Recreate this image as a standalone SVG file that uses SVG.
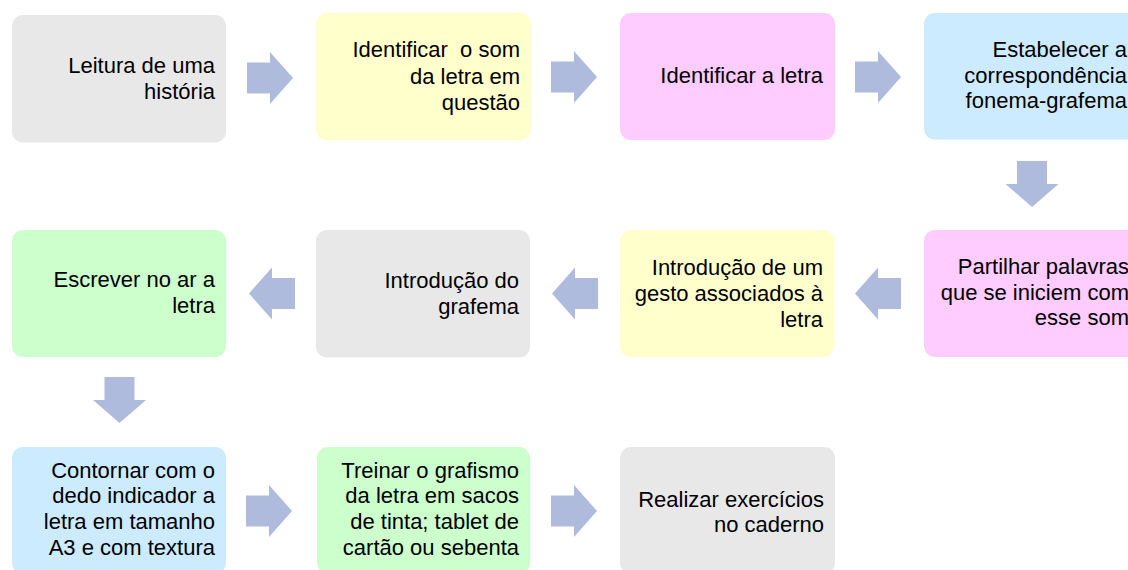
<svg xmlns="http://www.w3.org/2000/svg" width="1128" height="570" viewBox="0 0 1128 570">
<style>
.box{stroke:none}
.gray{fill:#E8E8E8}
.yellow{fill:#FFFFCC}
.pink{fill:#FFCCFF}
.blue{fill:#CCEBFF}
.green{fill:#CCFFCC}
.arrow{fill:#AFBBDD;stroke:none}
text{font-family:"Liberation Sans",Arial,sans-serif;font-size:22px;fill:#000;text-anchor:end}
</style>
<defs>
<path id="ar" d="M0,-15.5 H23 V-26 L46,0 L23,26 V15.5 H0 Z"/>
<path id="al" d="M46,-15.5 H23 V-26 L0,0 L23,26 V15.5 H46 Z"/>
<path id="ad" d="M-15,0 V23 H-26.5 L0,46 L26.5,23 H15 V0 Z"/>
</defs>
<rect width="1128" height="570" fill="#FFFFFF"/>
<g id="connectors">
<use href="#ar" class="arrow" x="247" y="78"/>
<use href="#ar" class="arrow" x="551" y="77"/>
<use href="#ar" class="arrow" x="855" y="77"/>
<use href="#ad" class="arrow" x="1032" y="161"/>
<use href="#al" class="arrow" x="855" y="293.5"/>
<use href="#al" class="arrow" x="552" y="293.5"/>
<use href="#al" class="arrow" x="249" y="293.5"/>
<use href="#ad" class="arrow" x="119.5" y="377"/>
<use href="#ar" class="arrow" x="246" y="511"/>
<use href="#ar" class="arrow" x="551" y="511"/>
</g>
<g id="n1"><rect class="box gray" x="12" y="15" width="214" height="127.5" rx="11"/>
<text x="215" y="72.7">Leitura de uma</text><text x="215" y="99.3">história</text></g>
<g id="n2"><rect class="box yellow" x="316" y="13" width="215" height="127" rx="11"/>
<text x="520" y="57.3" xml:space="preserve">Identificar  o som</text><text x="520" y="84">da letra em</text><text x="520" y="110">questão</text></g>
<g id="n3"><rect class="box pink" x="620" y="13" width="215" height="127" rx="11"/>
<text x="823" y="82.7">Identificar a letra</text></g>
<g id="n4"><rect class="box blue" x="924" y="13" width="215" height="126.5" rx="11"/>
<text x="1127" y="56.7">Estabelecer a</text><text x="1127" y="82.7">correspondência</text><text x="1127" y="108.3">fonema-grafema</text></g>
<g id="n5"><rect class="box pink" x="924" y="230" width="215" height="127" rx="11"/>
<text x="1129" y="274">Partilhar palavras</text><text x="1129" y="299.5">que se iniciem com</text><text x="1129" y="325">esse som</text></g>
<g id="n6"><rect class="box yellow" x="620" y="230" width="214" height="127" rx="11"/>
<text x="823" y="275">Introdução de um</text><text x="823" y="300.5">gesto associados à</text><text x="823" y="326.5">letra</text></g>
<g id="n7"><rect class="box gray" x="316" y="230" width="214" height="127.5" rx="11"/>
<text x="519" y="287.5">Introdução do</text><text x="519" y="314">grafema</text></g>
<g id="n8"><rect class="box green" x="12" y="230" width="214" height="127" rx="11"/>
<text x="215" y="286.5">Escrever no ar a</text><text x="215" y="313">letra</text></g>
<g id="n9"><rect class="box blue" x="12" y="447" width="214" height="127" rx="11"/>
<text x="215" y="477.7">Contornar com o</text><text x="215" y="503.3">dedo indicador a</text><text x="215" y="529.3">letra em tamanho</text><text x="215" y="555">A3 e com textura</text></g>
<g id="n10"><rect class="box green" x="317" y="447" width="213" height="127" rx="11"/>
<text x="519" y="477.7">Treinar o grafismo</text><text x="519" y="503.3">da letra em sacos</text><text x="519" y="529.3">de tinta; tablet de</text><text x="519" y="555">cartão ou sebenta</text></g>
<g id="n11"><rect class="box gray" x="620" y="447" width="215" height="127" rx="11"/>
<text x="824" y="506.7">Realizar exercícios</text><text x="824" y="531.7">no caderno</text></g>
</svg>
